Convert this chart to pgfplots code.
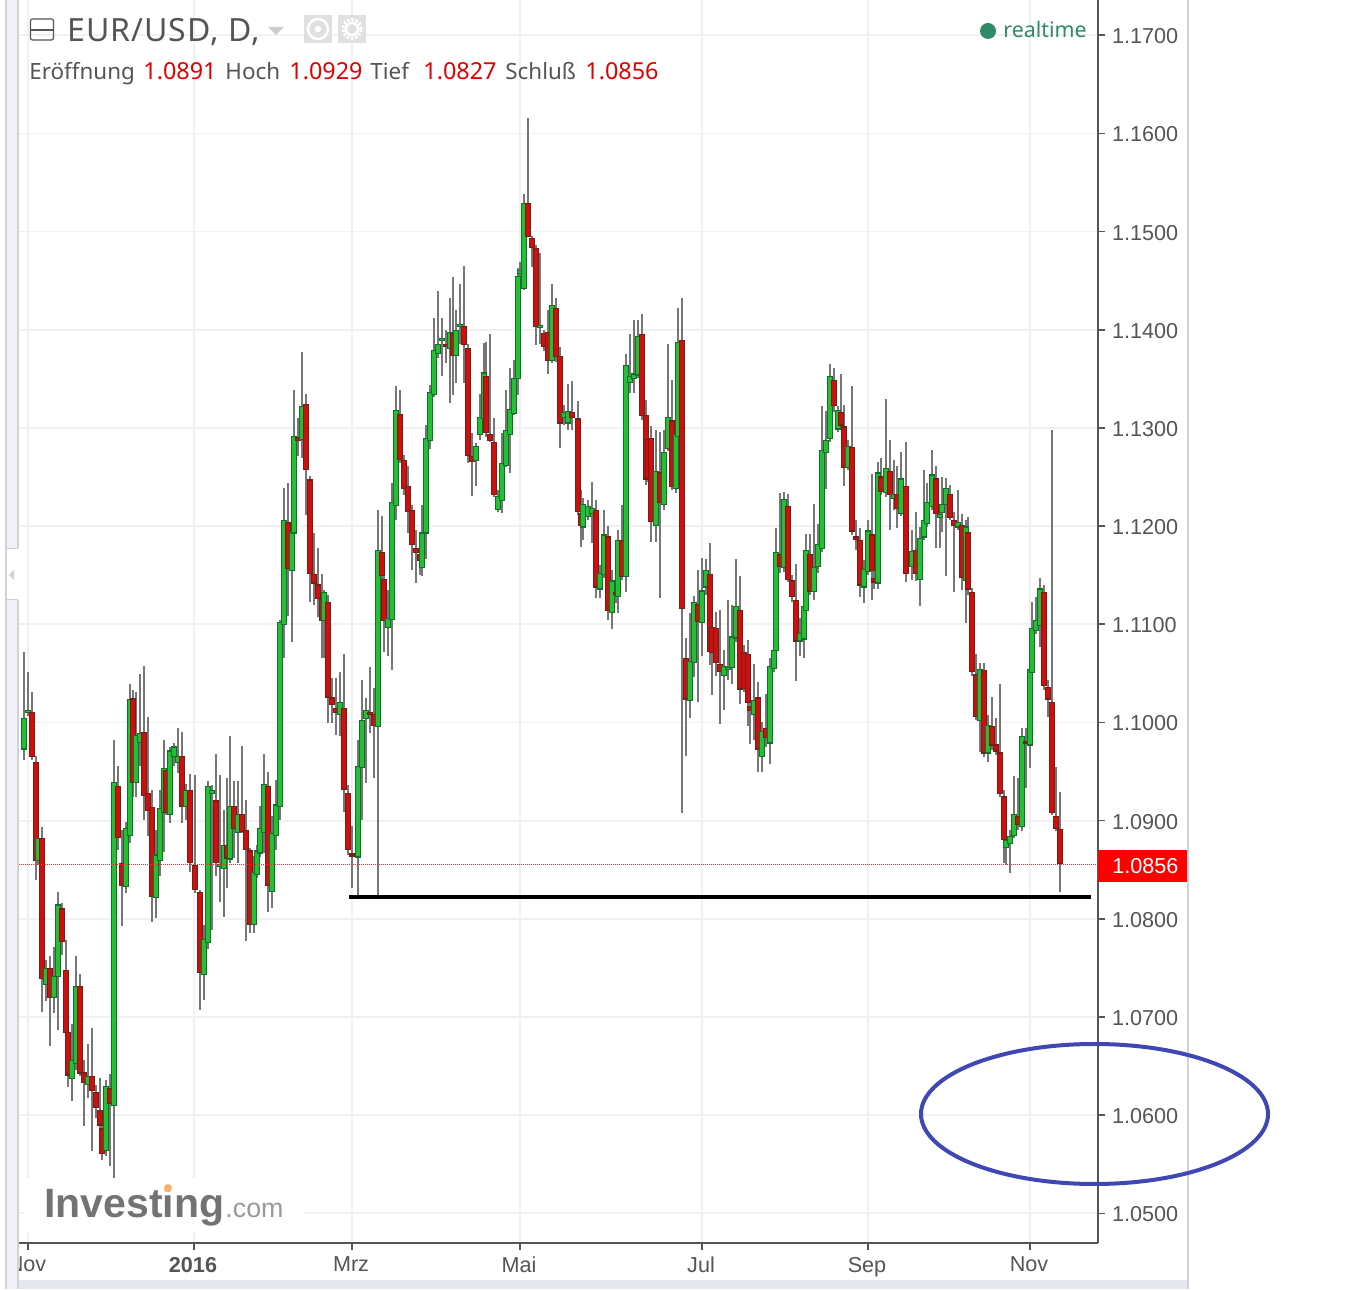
\documentclass[border=0pt]{standalone}
\usepackage{fontspec}
\usepackage{pgfplots}
\usepackage{pgfplotstable}
\pgfplotsset{compat=1.18}
\setmainfont{Liberation Sans}
\newfontfamily\hdr{Noto Sans}
\newfontfamily\hdrwide[LetterSpace=3]{Noto Sans}

\definecolor{greybox}{HTML}{555555}
\definecolor{gridc}{HTML}{F1F1F3}
\definecolor{upfill}{HTML}{22C032}
\definecolor{upline}{HTML}{156F2C}
\definecolor{dnfill}{HTML}{CC100F}
\definecolor{dnline}{HTML}{7A1C14}
\definecolor{wick}{HTML}{777777}
\definecolor{valred}{HTML}{E00000}
\definecolor{rtgreen}{HTML}{2E8B68}
\definecolor{panel}{HTML}{F0F2F7}
\definecolor{panelline}{HTML}{CFD2D6}
\definecolor{strip}{HTML}{E4E7EC}
\definecolor{ell}{HTML}{3F47B5}

% x is the horizontal position on the chart, then open high low close
\pgfplotstableread{
x o h l c
24 1.0973 1.1072 1.0962 1.1004
28 1.1010 1.1051 1.1007 1.1012
32 1.1010 1.1031 1.0962 1.0965
36 1.0959 1.0966 1.0840 1.0859
38 1.0859 1.0890 1.0855 1.0882
42 1.0882 1.0894 1.0705 1.0739
46 1.0733 1.0758 1.0716 1.0749
50 1.0749 1.0762 1.0670 1.0720
54 1.0720 1.0771 1.0704 1.0741
58 1.0741 1.0827 1.0687 1.0814
62 1.0810 1.0816 1.0763 1.0777
66 1.0747 1.0778 1.0671 1.0684
68 1.0684 1.0690 1.0629 1.0641
72 1.0637 1.0693 1.0614 1.0656
76 1.0653 1.0762 1.0646 1.0731
80 1.0731 1.0744 1.0640 1.0643
84 1.0643 1.0656 1.0589 1.0633
88 1.0631 1.0673 1.0618 1.0639
92 1.0639 1.0689 1.0563 1.0625
96 1.0623 1.0631 1.0597 1.0608
100 1.0605 1.0638 1.0585 1.0590
102 1.0586 1.0590 1.0554 1.0561
106 1.0564 1.0636 1.0558 1.0629
110 1.0627 1.0642 1.0548 1.0612
114 1.0610 1.0982 1.0536 1.0939
118 1.0935 1.0956 1.0870 1.0883
122 1.0856 1.0890 1.0793 1.0834
126 1.0833 1.0899 1.0826 1.0892
130 1.0885 1.1039 1.0877 1.1023
133 1.1024 1.1033 1.0924 1.0939
136 1.0939 1.1031 1.0924 1.0987
140 1.0980 1.1049 1.0956 1.0989
144 1.0990 1.1058 1.0901 1.0926
148 1.0928 1.1006 1.0884 1.0910
152 1.0913 1.0931 1.0797 1.0823
156 1.0822 1.0890 1.0801 1.0865
160 1.0859 1.0931 1.0844 1.0912
164 1.0908 1.0982 1.0868 1.0953
166 1.0951 1.0954 1.0906 1.0908
170 1.0906 1.0975 1.0898 1.0971
174 1.0965 1.0979 1.0956 1.0975
178 1.0959 1.0994 1.0949 1.0965
182 1.0965 1.0990 1.0898 1.0914
186 1.0914 1.0937 1.0901 1.0931
190 1.0931 1.0948 1.0848 1.0857
195 1.0854 1.0947 1.0826 1.0830
200 1.0827 1.0829 1.0707 1.0745
204 1.0743 1.0794 1.0717 1.0779
208 1.0776 1.0940 1.0769 1.0935
212 1.0928 1.0936 1.0789 1.0931
216 1.0920 1.0968 1.0844 1.0857
220 1.0853 1.0947 1.0817 1.0855
224 1.0851 1.0911 1.0802 1.0875
227 1.0875 1.0943 1.0831 1.0862
230 1.0861 1.0986 1.0857 1.0914
234 1.0914 1.0940 1.0862 1.0892
238 1.0888 1.0940 1.0857 1.0906
242 1.0906 1.0976 1.0887 1.0889
246 1.0890 1.0921 1.0777 1.0871
250 1.0869 1.0872 1.0786 1.0794
254 1.0794 1.0864 1.0786 1.0847
257 1.0845 1.0875 1.0842 1.0869
260 1.0867 1.0915 1.0863 1.0892
264 1.0888 1.0968 1.0867 1.0937
268 1.0935 1.0950 1.0807 1.0834
272 1.0828 1.0905 1.0811 1.0887
276 1.0885 1.0941 1.0870 1.0916
280 1.0914 1.1104 1.0901 1.1102
284 1.1100 1.1239 1.1066 1.1206
288 1.1204 1.1244 1.1108 1.1157
292 1.1155 1.1232 1.1082 1.1194
294 1.1193 1.1339 1.1159 1.1291
298 1.1290 1.1310 1.1271 1.1287
302 1.1288 1.1377 1.1269 1.1322
306 1.1324 1.1335 1.1211 1.1258
310 1.1247 1.1251 1.1123 1.1152
314 1.1151 1.1193 1.1120 1.1142
318 1.1140 1.1178 1.1107 1.1126
322 1.1125 1.1151 1.1066 1.1104
324 1.1104 1.1135 1.1066 1.1132
328 1.1122 1.1130 1.0999 1.1026
332 1.1025 1.1045 1.0999 1.1018
336 1.1014 1.1045 1.0987 1.1010
340 1.1008 1.1051 1.0986 1.1020
344 1.1014 1.1070 1.0909 1.0932
348 1.0928 1.0936 1.0865 1.0871
352 1.0866 1.0895 1.0831 1.0864
358 1.0863 1.0982 1.0822 1.0955
362 1.0954 1.1043 1.0901 1.1002
366 1.1004 1.1025 1.0938 1.1012
370 1.1010 1.1057 1.0989 1.1008
374 1.1008 1.1035 1.0943 1.0997
378 1.0996 1.1216 1.0820 1.1175
382 1.1173 1.1210 1.1142 1.1150
384 1.1146 1.1150 1.1072 1.1104
388 1.1097 1.1135 1.1068 1.1106
392 1.1105 1.1244 1.1053 1.1224
396 1.1221 1.1343 1.1206 1.1318
400 1.1314 1.1339 1.1264 1.1268
404 1.1267 1.1272 1.1232 1.1238
408 1.1240 1.1261 1.1193 1.1215
412 1.1216 1.1222 1.1155 1.1181
416 1.1177 1.1196 1.1142 1.1173
420 1.1171 1.1176 1.1150 1.1165
422 1.1158 1.1221 1.1149 1.1193
426 1.1193 1.1303 1.1166 1.1289
430 1.1287 1.1344 1.1279 1.1336
434 1.1334 1.1412 1.1332 1.1379
438 1.1376 1.1439 1.1371 1.1385
442 1.1389 1.1412 1.1353 1.1391
446 1.1385 1.1400 1.1366 1.1383
450 1.1381 1.1432 1.1325 1.1397
453 1.1396 1.1454 1.1334 1.1374
456 1.1374 1.1420 1.1346 1.1399
460 1.1403 1.1447 1.1386 1.1405
464 1.1403 1.1465 1.1346 1.1385
468 1.1381 1.1385 1.1264 1.1272
472 1.1271 1.1295 1.1231 1.1266
476 1.1267 1.1285 1.1241 1.1281
480 1.1293 1.1335 1.1288 1.1311
484 1.1310 1.1387 1.1295 1.1356
486 1.1352 1.1388 1.1291 1.1295
490 1.1293 1.1396 1.1286 1.1287
494 1.1285 1.1310 1.1230 1.1232
498 1.1217 1.1237 1.1214 1.1230
502 1.1226 1.1295 1.1213 1.1264
506 1.1262 1.1339 1.1260 1.1297
510 1.1293 1.1361 1.1254 1.1319
514 1.1315 1.1369 1.1313 1.1350
518 1.1350 1.1463 1.1334 1.1454
520 1.1457 1.1469 1.1451 1.1460
524 1.1442 1.1538 1.1441 1.1529
528 1.1529 1.1616 1.1494 1.1495
532 1.1493 1.1496 1.1464 1.1484
536 1.1483 1.1486 1.1384 1.1403
540 1.1402 1.1478 1.1385 1.1404
544 1.1396 1.1400 1.1378 1.1383
548 1.1397 1.1420 1.1355 1.1369
552 1.1369 1.1447 1.1366 1.1425
556 1.1422 1.1432 1.1367 1.1373
560 1.1373 1.1382 1.1280 1.1305
564 1.1311 1.1323 1.1303 1.1316
568 1.1305 1.1345 1.1298 1.1317
572 1.1316 1.1348 1.1298 1.1311
578 1.1309 1.1327 1.1211 1.1215
581 1.1213 1.1237 1.1179 1.1201
583 1.1199 1.1229 1.1186 1.1222
588 1.1210 1.1227 1.1206 1.1220
592 1.1213 1.1245 1.1183 1.1218
596 1.1216 1.1227 1.1127 1.1138
600 1.1136 1.1160 1.1127 1.1152
604 1.1151 1.1216 1.1147 1.1191
608 1.1189 1.1200 1.1104 1.1114
612 1.1112 1.1155 1.1095 1.1144
616 1.1132 1.1140 1.1122 1.1130
618 1.1128 1.1196 1.1112 1.1185
622 1.1185 1.1221 1.1145 1.1149
626 1.1149 1.1375 1.1133 1.1364
630 1.1346 1.1396 1.1336 1.1352
634 1.1350 1.1410 1.1336 1.1355
638 1.1354 1.1410 1.1351 1.1393
642 1.1395 1.1416 1.1308 1.1313
646 1.1313 1.1328 1.1242 1.1248
648 1.1288 1.1293 1.1245 1.1249
651 1.1289 1.1302 1.1184 1.1205
656 1.1201 1.1298 1.1184 1.1256
660 1.1255 1.1296 1.1127 1.1224
664 1.1222 1.1298 1.1216 1.1275
668 1.1279 1.1386 1.1276 1.1311
672 1.1307 1.1349 1.1237 1.1240
676 1.1238 1.1303 1.1234 1.1293
678 1.1291 1.1422 1.1288 1.1387
682 1.1389 1.1432 1.0908 1.1116
686 1.1065 1.1086 1.0966 1.1024
690 1.1022 1.1112 1.1005 1.1062
694 1.1061 1.1129 1.1046 1.1122
698 1.1120 1.1155 1.1021 1.1103
702 1.1102 1.1168 1.1068 1.1134
706 1.1138 1.1166 1.1130 1.1155
710 1.1151 1.1183 1.1059 1.1072
712 1.1097 1.1104 1.1028 1.1071
716 1.1096 1.1113 1.1047 1.1061
720 1.1059 1.1115 1.0998 1.1052
724 1.1048 1.1074 1.1013 1.1057
728 1.1054 1.1125 1.1043 1.1056
732 1.1056 1.1120 1.1039 1.1087
736 1.1086 1.1166 1.1082 1.1118
740 1.1114 1.1149 1.1019 1.1034
744 1.1071 1.1079 1.1031 1.1035
748 1.1069 1.1084 1.0996 1.1020
750 1.1016 1.1023 1.0978 1.1012
754 1.1008 1.1060 1.0982 1.1022
758 1.1025 1.1041 1.0950 1.0973
762 1.0965 1.1000 1.0950 1.0991
766 1.0994 1.1029 1.0975 1.0985
770 1.0979 1.1066 1.0958 1.1057
774 1.1055 1.1079 1.1051 1.1073
776 1.1073 1.1198 1.1069 1.1173
780 1.1171 1.1234 1.1152 1.1159
784 1.1158 1.1235 1.1153 1.1227
788 1.1220 1.1233 1.1143 1.1146
792 1.1144 1.1150 1.1123 1.1128
796 1.1124 1.1161 1.1042 1.1083
800 1.1083 1.1106 1.1068 1.1091
804 1.1085 1.1125 1.1066 1.1118
806 1.1114 1.1192 1.1110 1.1175
810 1.1171 1.1192 1.1130 1.1134
814 1.1133 1.1223 1.1125 1.1158
818 1.1159 1.1202 1.1152 1.1181
822 1.1177 1.1322 1.1174 1.1277
826 1.1275 1.1317 1.1238 1.1287
830 1.1289 1.1365 1.1286 1.1352
834 1.1348 1.1361 1.1316 1.1323
838 1.1299 1.1322 1.1296 1.1318
841 1.1316 1.1355 1.1298 1.1303
844 1.1301 1.1323 1.1241 1.1260
848 1.1260 1.1288 1.1257 1.1281
852 1.1280 1.1343 1.1191 1.1195
856 1.1189 1.1206 1.1176 1.1186
860 1.1185 1.1198 1.1128 1.1140
864 1.1138 1.1165 1.1122 1.1156
868 1.1154 1.1206 1.1150 1.1195
872 1.1191 1.1253 1.1125 1.1155
874 1.1147 1.1155 1.1136 1.1143
878 1.1142 1.1265 1.1136 1.1254
881 1.1250 1.1269 1.1232 1.1235
886 1.1234 1.1329 1.1230 1.1259
890 1.1256 1.1288 1.1196 1.1232
894 1.1228 1.1267 1.1216 1.1232
897 1.1232 1.1261 1.1198 1.1218
901 1.1213 1.1275 1.1210 1.1248
906 1.1240 1.1286 1.1143 1.1152
912 1.1159 1.1196 1.1145 1.1174
916 1.1175 1.1214 1.1144 1.1152
920 1.1146 1.1199 1.1119 1.1187
924 1.1189 1.1257 1.1186 1.1206
927 1.1203 1.1244 1.1199 1.1224
932 1.1220 1.1278 1.1216 1.1252
936 1.1248 1.1261 1.1178 1.1213
940 1.1209 1.1222 1.1178 1.1212
942 1.1214 1.1250 1.1194 1.1222
946 1.1222 1.1249 1.1149 1.1238
950 1.1232 1.1242 1.1206 1.1209
954 1.1206 1.1214 1.1133 1.1201
958 1.1199 1.1237 1.1196 1.1204
962 1.1201 1.1212 1.1135 1.1148
966 1.1145 1.1206 1.1101 1.1199
968 1.1193 1.1209 1.1130 1.1136
972 1.1132 1.1137 1.1047 1.1052
976 1.1049 1.1070 1.1003 1.1006
980 1.1002 1.1061 1.0970 1.1054
984 1.1053 1.1061 1.0965 1.0969
988 1.0969 1.1008 1.0960 1.0997
992 1.0996 1.1026 1.0972 1.0977
996 1.0977 1.1005 1.0967 1.0971
1000 1.0969 1.1039 1.0924 1.0928
1004 1.0924 1.0931 1.0857 1.0881
1006 1.0873 1.0901 1.0855 1.0880
1010 1.0877 1.0890 1.0847 1.0884
1014 1.0885 1.0945 1.0882 1.0906
1018 1.0904 1.0943 1.0890 1.0896
1022 1.0894 1.0994 1.0889 1.0986
1026 1.0981 1.0994 1.0933 1.0979
1030 1.0977 1.1064 1.0954 1.1054
1032 1.1051 1.1123 1.1047 1.1096
1036 1.1094 1.1128 1.1090 1.1104
1040 1.1099 1.1147 1.1077 1.1136
1044 1.1132 1.1140 1.1033 1.1038
1048 1.1036 1.1043 1.1006 1.1024
1052 1.1020 1.1298 1.0906 1.0908
1056 1.0904 1.0955 1.0889 1.0892
1060 1.0891 1.0929 1.0827 1.0856
}\candles

\tikzset{
  upbody/.style={draw=upline,fill=upfill,line width=0.6pt},
  dnbody/.style={draw=dnline,fill=dnfill,line width=0.6pt},
}

\begin{document}
\begin{tikzpicture}
\path[use as bounding box,fill=white] (0,0) rectangle (684.5pt,644.5pt);
\begin{axis}[
  at={(9.5pt,23pt)}, anchor=south west,
  scale only axis, width=539.5pt, height=621.5pt,
  xmin=19, xmax=1098,
  ymin=1.04698, ymax=1.17359,
  axis x line*=bottom, axis y line*=right,
  axis line style={draw=greybox,line width=0.9pt,-},
  xtick={28,194,352,520,702,868,1030},
  xticklabels={Nov,\textbf{2016},Mrz,Mai,Jul,Sep,Nov},
  ytick={1.05,1.06,1.07,1.08,1.09,1.10,1.11,1.12,1.13,1.14,1.15,1.16,1.17},
  /pgf/number format/fixed,
  /pgf/number format/fixed zerofill,
  /pgf/number format/precision=4,
  /pgf/number format/assume math mode=true,
  scaled y ticks=false,
  tick label style={font=\fontsize{10.8}{12}\selectfont,text=greybox},
  xticklabel style={xshift=-0.5pt},
  yticklabel style={yshift=-0.5pt},
  tick style={draw=greybox,line width=0.8pt},
  tick align=outside, major tick length=3.5pt,
  grid=major, major grid style={draw=gridc,line width=0.9pt},
  clip=true,
]
% wicks under all bodies
\addplot[draw=none,mark=none,forget plot,
  error bars/.cd,y dir=plus,y explicit,error mark=none,
  error bar style={draw=wick,line width=0.65pt}]
  table[x=x,y=l,y error plus expr=\thisrow{h}-\thisrow{l}] {\candles};

% one body per row, later days over earlier ones
\pgfplotstablegetrowsof{\candles}
\pgfmathtruncatemacro\lastrow{\pgfplotsretval-1}
\pgfplotsforeachungrouped \r in {0,...,\lastrow}{
  \pgfplotstablegetelem{\r}{x}\of\candles\let\vx\pgfplotsretval
  \pgfplotstablegetelem{\r}{o}\of\candles\let\vo\pgfplotsretval
  \pgfplotstablegetelem{\r}{c}\of\candles\let\vc\pgfplotsretval
  \pgfmathsetmacro\xl{\vx-2.2}
  \pgfmathsetmacro\xr{\vx+2.2}
  \ifdim\vc pt<\vo pt\def\bodystyle{dnbody}\else\def\bodystyle{upbody}\fi
  \edef\temp{\noexpand\addplot[forget plot,\bodystyle] coordinates {(\xl,\vo)(\xr,\vo)(\xr,\vc)(\xl,\vc)} -- cycle;}
  \temp
}

% last price line and the support line
\addplot[draw=red!85,line width=0.5pt,dash pattern=on 0.5pt off 0.5pt,forget plot] coordinates {(19,1.08555)(1098,1.08555)};
\addplot[draw=black,line width=2pt,forget plot] coordinates {(349,1.08225)(1091,1.08225)};
\end{axis}

\begin{scope}[shift={(0pt,644.5pt)},x=0.5pt,y=-0.5pt]
  % left panel
  \fill[panel] (6,0) rectangle (18,1289);
  \fill[white] (6,548) rectangle (18,600);
  \fill[panelline] (5,0) rectangle (7,1289);
  \fill[panelline] (17,0) rectangle (19,548);
  \fill[panelline] (17,600) rectangle (19,1289);
  \fill[panelline] (7,548) rectangle (18,549);
  \fill[panelline] (7,599) rectangle (18,600);
  \fill[panelline] (14,570)--(9,575)--(14,580)--cycle;
  % right border and bottom strip
  \fill[panelline] (1187,0) rectangle (1189,1289);
  \fill[strip] (19,1280) rectangle (1187,1289);
  % price tag
  \fill[red] (1098,850) rectangle (1187,882);
  \node[anchor=base west,inner sep=0pt,text=white,font=\fontsize{10.8}{12}\selectfont] at (1112,874) {1.0856};
  % header
  \draw[greybox,line width=0.6pt,rounded corners=1pt] (30.5,19) rectangle (53.5,40);
  \draw[greybox,line width=0.6pt] (30.5,30) -- (53.5,30);
  \node[anchor=base west,inner sep=0pt,text=greybox,font=\hdrwide\fontsize{16}{18}\selectfont] at (67,42) {EUR/USD, D,};
  \fill[black!20] (268,27)--(284,27)--(276,35)--cycle;
  \fill[black!12] (304,15) rectangle (332,43);
  \fill[black!12] (338,15) rectangle (366,43);
  \draw[white,line width=1.2pt] (318,29) circle (5pt);
  \fill[white] (318,29) circle (1.6pt);
  \draw[white,line width=1.6pt,dash pattern=on 1.2pt off 0.9pt] (352,29) circle (4.6pt);
  \draw[white,line width=1.2pt] (352,29) circle (3pt);
  \def\lab#1#2{\node[anchor=base west,inner sep=0pt,text=greybox,font=\hdr\fontsize{11.2}{14}\selectfont] at (#1,80) {#2};}
  \def\val#1#2{\node[anchor=base west,inner sep=0pt,text=valred,font=\hdr\fontsize{11.7}{14}\selectfont] at (#1,80) {#2};}
  \lab{29}{Eröffnung}\val{143}{1.0891}
  \lab{225}{Hoch}\val{289}{1.0929}
  \lab{370}{Tief}\val{423}{1.0827}
  \lab{505}{Schluß}\val{585}{1.0856}
  % realtime
  \fill[rtgreen] (988,31) circle (4pt);
  \node[anchor=base west,inner sep=0pt,text=rtgreen,font=\hdr\fontsize{10.7}{13}\selectfont] at (1003,37.5) {realtime};
  % logo
  \fill[white] (24,1178) rectangle (304,1232);
  \node[anchor=base west,inner sep=0pt,text=black!55,font=\bfseries\fontsize{20.5}{22}\selectfont] at (44,1218) {Investing};
  \node[anchor=base west,inner sep=0pt,text=black!40,font=\fontsize{13.4}{15}\selectfont] at (225,1218) {.com};
  \fill[orange!60] (168,1188) circle (2pt);
  % hand drawn ellipse
  \draw[ell,line width=2pt] (1094.5,1114) ellipse [x radius=173.5,y radius=70];
\end{scope}
\end{tikzpicture}
\end{document}
